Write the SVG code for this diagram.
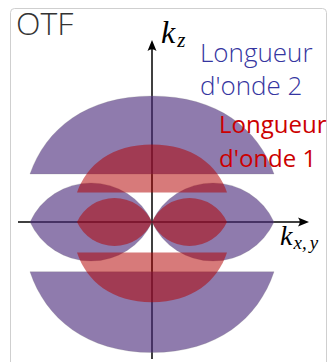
<svg xmlns="http://www.w3.org/2000/svg" width="328" height="362" viewBox="0 0 328 362">
  <style>
    .ax { stroke: #000; stroke-width: 1.5; fill: none; }
    .head { fill: #000; stroke: none; }
    .p { fill: #4a2a7a; fill-opacity: 0.62; stroke: #777; stroke-opacity: 0.35; stroke-width: 0.6; }
    .r { fill: #b20000; fill-opacity: 0.52; stroke: none; }
    .lbl { font-family: "Open Sans", "Liberation Sans", sans-serif; }
    .math { font-family: "Liberation Serif", "DejaVu Serif", serif; font-style: italic; fill: #000; }
  </style>
  <rect x="0" y="0" width="328" height="362" fill="#fff"/>
  <rect x="10.5" y="8.5" width="316" height="380" rx="4" fill="none" stroke="#cfcfcf" stroke-width="1"/>

  <g id="axes">
    <line class="ax" x1="18" y1="222" x2="306" y2="222"/>
    <path class="head" d="M309 222 L298 217.5 Q301.5 222 298 226.5 Z"/>
    <line class="ax" x1="152" y1="359" x2="152" y2="43"/>
    <path class="head" d="M152 40 L147.5 51 Q152 47.5 156.5 51 Z"/>
  </g>

  <g id="wavelength2">
    <path class="p" d="M30 174 C45.65 128.7 86.7 96 152 96 C217.3 96 258.35 128.7 274 174 Z"/>
    <path class="p" d="M30 271.7 C45.65 318.6 86.7 352.5 152 352.5 C217.3 352.5 258.35 318.6 274 271.7 Z"/>
    <path class="p" d="M30 222 A67.2 67.2 0 0 1 152 222 A67.2 67.2 0 0 1 30 222 Z"/>
    <path class="p" d="M152 222 A67.2 67.2 0 0 1 274 222 A67.2 67.2 0 0 1 152 222 Z"/>
  </g>

  <g id="wavelength1">
    <path class="r" d="M77 192.5 C86.6 164.6 111.8 144.5 152 144.5 C192.2 144.5 217.4 164.6 227 192.5 Z"/>
    <path class="r" d="M77 252.6 C86.6 281.4 111.8 302.3 152 302.3 C192.2 302.3 217.4 281.4 227 252.6 Z"/>
    <path class="r" d="M77 222 A41.3 41.3 0 0 1 152 222 A41.3 41.3 0 0 1 77 222 Z"/>
    <path class="r" d="M152 222 A41.3 41.3 0 0 1 227 222 A41.3 41.3 0 0 1 152 222 Z"/>
  </g>

  <g id="labels">
    <text class="lbl" x="16" y="35" font-size="32" font-weight="300" fill="#333">OTF</text>
    <text class="lbl" x="200" y="62" font-size="26" font-weight="300" fill="#3535a0">Longueur</text>
    <text class="lbl" x="200" y="95" font-size="26" font-weight="300" fill="#3535a0">d'onde 2</text>
    <text class="lbl" x="219" y="133" font-size="24" fill="#cc0000">Longueur</text>
    <text class="lbl" x="219" y="167" font-size="24" fill="#cc0000">d'onde 1</text>
    <text class="math" x="161" y="43" font-size="32">k<tspan font-size="21" dx="2" dy="4">z</tspan></text>
    <text class="math" x="280" y="245" font-size="28">k<tspan font-size="19" dx="1" dy="4">x</tspan><tspan font-size="19">,</tspan><tspan font-size="19" dx="3">y</tspan></text>
  </g>
</svg>
